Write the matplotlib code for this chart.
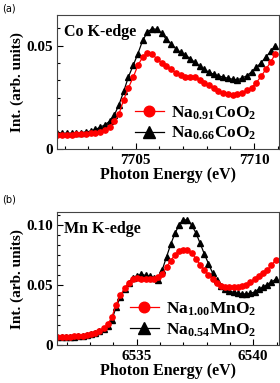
import matplotlib
matplotlib.use("Agg")
import matplotlib.pyplot as plt
from matplotlib.ticker import MultipleLocator

# --- (a) Co K-edge ---
energia_co = [7701.7, 7701.9, 7702.1, 7702.3, 7702.5, 7702.7, 7702.9, 7703.1, 7703.3, 7703.5,
              7703.7, 7703.9, 7704.1, 7704.3, 7704.5, 7704.7, 7704.9, 7705.1, 7705.3, 7705.5,
              7705.7, 7705.9, 7706.1, 7706.3, 7706.5, 7706.7, 7706.9, 7707.1, 7707.3, 7707.5,
              7707.7, 7707.9, 7708.1, 7708.3, 7708.5, 7708.7, 7708.9, 7709.1, 7709.3, 7709.5,
              7709.7, 7709.9, 7710.1, 7710.3, 7710.5, 7710.7, 7710.9]
int_na091 = [.0070, .0070, .0071, .0071, .0072, .0073, .0075, .0077, .0080, .0085,
             .0094, .0109, .0135, .0170, .0240, .0297, .0348, .0405, .0445, .0465,
             .0458, .0437, .0418, .0402, .0386, .0368, .0357, .0350, .0349, .0350,
             .0336, .0322, .0308, .0294, .0283, .0274, .0268, .0263, .0265, .0272,
             .0284, .0298, .0322, .0352, .0386, .0420, .0460]
int_na066 = [.0077, .0077, .0078, .0078, .0079, .0081, .0084, .0088, .0096, .0106,
             .0118, .0135, .0165, .0215, .0280, .0350, .0405, .0462, .0525, .0565,
             .0582, .0578, .0560, .0530, .0508, .0485, .0468, .0455, .0438, .0420,
             .0402, .0385, .0372, .0362, .0355, .0348, .0343, .0338, .0335, .0344,
             .0355, .0374, .0395, .0418, .0445, .0472, .0500]

# --- (b) Mn K-edge ---
energia_mn = [6531.60, 6531.78, 6531.96, 6532.14, 6532.32, 6532.50, 6532.68, 6532.86, 6533.04, 6533.22,
              6533.40, 6533.58, 6533.76, 6533.94, 6534.12, 6534.30, 6534.48, 6534.66, 6534.84, 6535.02,
              6535.20, 6535.38, 6535.56, 6535.74, 6535.92, 6536.10, 6536.28, 6536.46, 6536.64, 6536.82,
              6537.00, 6537.18, 6537.36, 6537.54, 6537.72, 6537.90, 6538.08, 6538.26, 6538.44, 6538.62,
              6538.80, 6538.98, 6539.16, 6539.34, 6539.52, 6539.70, 6539.88, 6540.06, 6540.24, 6540.42,
              6540.60, 6540.78, 6540.96]
int_na100 = [.0072, .0072, .0073, .0074, .0076, .0078, .0081, .0086, .0095, .0106,
             .0122, .0145, .0175, .0238, .0340, .0415, .0475, .0518, .0548, .0558,
             .0555, .0552, .0552, .0555, .0565, .0595, .0650, .0705, .0752, .0785,
             .0795, .0790, .0770, .0720, .0672, .0630, .0588, .0548, .0515, .0495,
             .0485, .0482, .0482, .0485, .0492, .0505, .0525, .0555, .0580, .0600,
             .0628, .0665, .0710]
int_na054 = [.0070, .0070, .0071, .0072, .0074, .0076, .0079, .0084, .0092, .0102,
             .0118, .0140, .0165, .0215, .0320, .0400, .0465, .0520, .0560, .0580,
             .0590, .0582, .0575, .0560, .0545, .0630, .0735, .0840, .0930, .1000,
             .1045, .1040, .1000, .0935, .0850, .0760, .0680, .0600, .0540, .0495,
             .0470, .0455, .0440, .0432, .0428, .0428, .0432, .0445, .0468, .0485,
             .0505, .0525, .0550]

ticks_x_co = [7705, 7710]
ticks_x_mn = [6535, 6540]
ticks_y_co = [0, 0.05]
rotulos_y_co = ['0', '0.05']
ticks_y_mn = [0, 0.05, 0.10]
rotulos_y_mn = ['0', '0.05', '0.10']

plt.rcParams['font.family'] = ['Liberation Serif', 'DejaVu Serif']
plt.rcParams['font.weight'] = 'bold'
plt.rcParams['mathtext.fontset'] = 'custom'
plt.rcParams['mathtext.rm'] = 'Liberation Serif:bold'
plt.rcParams['mathtext.it'] = 'Liberation Serif:bold'
plt.rcParams['mathtext.bf'] = 'Liberation Serif:bold'

fig = plt.figure(figsize=(2.8, 3.83), dpi=100)
ax_a = fig.add_axes([0.205, 0.610, 0.791, 0.351])
ax_b = fig.add_axes([0.205, 0.098, 0.791, 0.349])


def desenhar(ax, x, y_verm, y_preto, nome_verm, nome_preto, titulo,
             xlim, ylim, xt, yt, ylab):
    l_preto, = ax.plot(x, y_preto, color='black', marker='^', ms=4, lw=0.9,
                       label=nome_preto)
    l_verm, = ax.plot(x, y_verm, color='red', marker='o', ms=3.8, lw=0.9,
                      label=nome_verm)
    ax.set_xlim(*xlim)
    ax.set_ylim(*ylim)
    ax.set_xticks(xt)
    ax.set_yticks(yt)
    ax.set_yticklabels(ylab)
    ax.xaxis.set_minor_locator(MultipleLocator(1))
    ax.yaxis.set_minor_locator(MultipleLocator(0.05 / 6))
    ax.tick_params(which='both', direction='in', labelsize=11, pad=3)
    ax.tick_params(which='major', length=4, width=0.8)
    ax.tick_params(which='minor', length=2.5, width=0.8)
    ax.set_xlabel('Photon Energy (eV)', fontsize=11.5, fontweight='bold', labelpad=0)
    ax.set_ylabel('Int. (arb. units)', fontsize=11, fontweight='bold', labelpad=2)
    ax.text(0.03, 0.93, titulo, transform=ax.transAxes, fontsize=11.5,
            fontweight='bold', va='top', ha='left')
    ax.legend(handles=[l_verm, l_preto], loc='lower right', frameon=False,
              fontsize=12.5, markerscale=2.0, handlelength=1.7, handletextpad=0.4,
              labelspacing=0.2, borderaxespad=0.0, bbox_to_anchor=(0.93, 0.0))
    for s in ax.spines.values():
        s.set_linewidth(0.8)
        s.set_color('#444444')


desenhar(ax_a, energia_co, int_na091, int_na066,
         r'Na$_{0.91}$CoO$_2$', r'Na$_{0.66}$CoO$_2$', 'Co K-edge',
         (7701.7, 7711.05), (0, 0.0648), ticks_x_co, ticks_y_co, rotulos_y_co)
desenhar(ax_b, energia_mn, int_na100, int_na054,
         r'Na$_{1.00}$MnO$_2$', r'Na$_{0.54}$MnO$_2$', 'Mn K-edge',
         (6531.6, 6541.1), (0, 0.111), ticks_x_mn, ticks_y_mn, rotulos_y_mn)

fig.text(0.007, 0.979, '(a)', family='DejaVu Sans', fontsize=7, fontweight='normal',
         va='center', ha='left')
fig.text(0.007, 0.478, '(b)', family='DejaVu Sans', fontsize=7, fontweight='normal',
         va='center', ha='left')

fig.savefig('out.png', dpi=100)
